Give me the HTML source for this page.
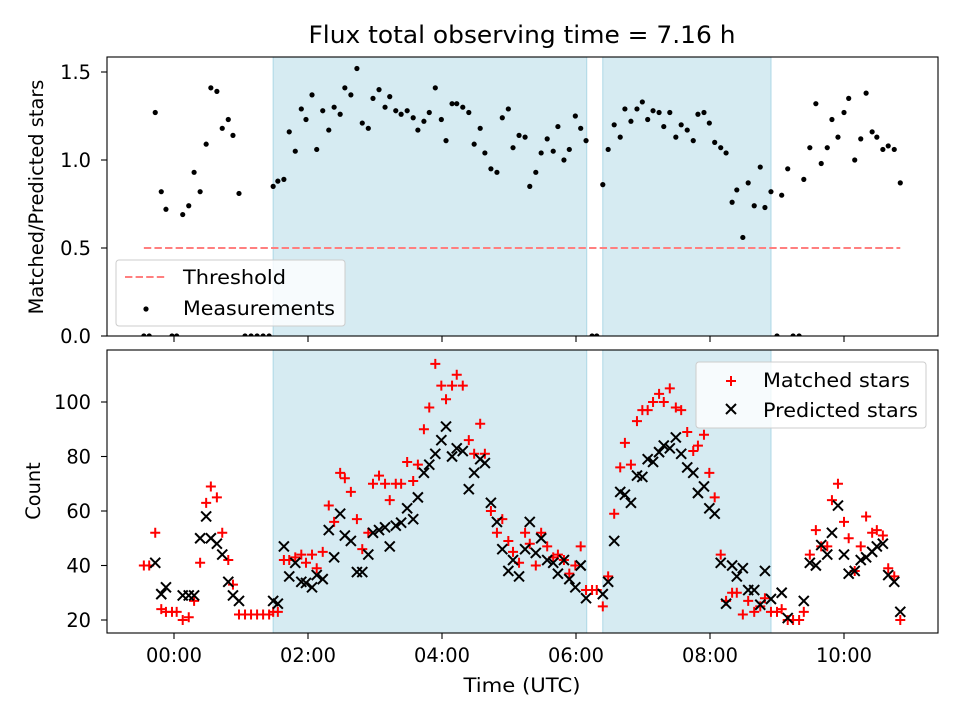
<!DOCTYPE html>
<html><head><meta charset="utf-8"><style>
body{margin:0;background:#fff;}
svg{display:block;font-family:"DejaVu Sans","Liberation Sans",sans-serif;}
</style></head><body>
<svg id="chart" width="960" height="720" xmlns="http://www.w3.org/2000/svg"></svg>
<script>
const times=[-0.45,-0.37,-0.28,-0.19,-0.12,-0.03,0.04,0.13,0.22,0.30,0.39,0.48,0.55,0.64,0.72,0.81,0.88,0.97,1.06,1.15,1.24,1.33,1.42,1.48,1.55,1.64,1.72,1.81,1.90,1.97,2.06,2.13,2.22,2.31,2.39,2.48,2.55,2.64,2.73,2.81,2.90,2.97,3.06,3.15,3.22,3.31,3.39,3.48,3.57,3.64,3.73,3.81,3.90,3.99,4.06,4.15,4.22,4.31,4.40,4.48,4.57,4.64,4.73,4.82,4.90,4.99,5.06,5.15,5.24,5.31,5.40,5.48,5.57,5.66,5.73,5.82,5.90,5.99,6.07,6.15,6.24,6.31,6.40,6.48,6.57,6.66,6.73,6.82,6.91,6.99,7.07,7.15,7.24,7.31,7.40,7.49,7.57,7.66,7.75,7.82,7.91,7.99,8.07,8.16,8.24,8.33,8.40,8.49,8.57,8.66,8.75,8.82,8.91,9.00,9.07,9.16,9.24,9.33,9.40,9.49,9.58,9.66,9.75,9.82,9.91,10.00,10.07,10.16,10.25,10.33,10.42,10.49,10.58,10.66,10.75,10.84];
const ratios=[0,0,1.27,0.82,0.72,0,0,0.69,0.74,0.93,0.82,1.09,1.41,1.39,1.18,1.23,1.14,0.81,0,0,0,0,0,0.85,0.88,0.89,1.16,1.05,1.29,1.23,1.37,1.06,1.28,1.17,1.30,1.26,1.41,1.37,1.52,1.21,1.18,1.35,1.40,1.30,1.36,1.28,1.26,1.28,1.24,1.17,1.22,1.27,1.41,1.23,1.11,1.32,1.32,1.30,1.27,1.09,1.18,1.04,0.95,0.93,1.24,1.29,1.07,1.14,1.13,0.85,0.93,1.04,1.12,1.05,1.19,1.00,1.06,1.25,1.18,1.11,0,0,0.86,1.06,1.20,1.13,1.29,1.22,1.29,1.33,1.23,1.28,1.27,1.19,1.27,1.13,1.20,1.17,1.11,1.26,1.27,1.21,1.10,1.07,1.04,0.76,0.83,0.56,0.87,0.74,0.96,0.73,0.82,0,0.80,0.95,0,0,0.89,1.07,1.32,0.98,1.07,1.23,1.13,1.27,1.35,1.00,1.12,1.38,1.16,1.13,1.06,1.08,1.06,0.87];
const matched=[40,40,52,24,23,23,23,20,21,27,41,63,69,65,52,42,33,22,22,22,22,22,22,23,23,42,42,43,44,41,44,39,45,62,56,74,72,67,57,46,52,70,73,70,64,70,70,78,71,77,90,98,114,106,101,106,110,106,86,81,92,81,60,52,57,49,45,41,52,48,40,52,47,43,44,42,37,40,47,31,31,31,25,36,59,76,85,77,93,97,97,100,103,100,105,98,97,89,82,84,88,74,65,44,27,30,30,22,27,23,25,28,23,23,24,20,20,20,23,44,53,47,47,64,70,56,50,38,47,58,52,53,51,39,36,20];
const predicted=[null,null,41,29.5,32,null,null,29,29,29,50,58,50,48,44,34,29,27,null,null,null,null,null,27,26,47,36,41,34,33.6,32,36.5,35,53,43,59,51,49,37.6,37.6,44,52,53,54,47,54.6,55.7,61,57,65,74,77,81,86,91,80,83,82,68,74,79,77.6,63,56,46,38,42,36,46,56,44.6,50,42,41,37,42,35,32,40,28,null,null,29.5,34,49,67,66,63,73,72.5,79,78,81.6,84,83,87,81,76,74,66.6,69,61,59,41,26,40,36,39,31,31,25.6,38,27.7,null,30,20.7,null,null,27,41,40,47.5,44,52,62,44,37,38,42,43,45,47,48,36.5,34,23];
const threshold=0.5;
const shadeStart=[1.48,6.40];
const shadeEnd=[6.16,8.91];
const xTicks=[0,2,4,6,8,10];
const xTickLabels=["00:00","02:00","04:00","06:00","08:00","10:00"];
const topTicks=[0,0.5,1.0,1.5];
const topTickLabels=["0.0","0.5","1.0","1.5"];
const botTicks=[20,40,60,80,100];
const botTickLabels=["20","40","60","80","100"];

const NS="http://www.w3.org/2000/svg";
const svg=document.getElementById('chart');
function mk(tag,attrs,parent){const e=document.createElementNS(NS,tag);for(const k in attrs)e.setAttribute(k,attrs[k]);(parent||svg).appendChild(e);return e;}
const L=107,R=938,T1=57,B1=336,T2=350,B2=633;
const FS=19.4;
const xs=h=>174+67*h;
const ysTop=v=>336-176*v;
const ysBot=v=>620-(v-20)*2.725;

let t=mk('text',{x:522,y:43,'text-anchor':'middle','font-size':24,textLength:427,lengthAdjust:'spacingAndGlyphs'});t.textContent="Flux total observing time = 7.16 h";



function panel(top,bot,name){
  const g=mk('g',{});
  
  
  for(let i=0;i<shadeStart.length;i++){
    const r=mk('rect',{x:xs(shadeStart[i]),y:top,width:xs(shadeEnd[i])-xs(shadeStart[i]),height:bot-top,fill:'#add8e6','fill-opacity':0.5,stroke:'#add8e6','stroke-width':1},g);
    
    
  }
  return g;
}
function frame(top,bot){mk('rect',{x:L,y:top,width:R-L,height:bot-top,fill:'none',stroke:'#000','stroke-width':1.1});}
function xticks(bot,labels){
  xTicks.forEach((h,i)=>{
    mk('line',{x1:xs(h),x2:xs(h),y1:bot,y2:bot+6,stroke:'#000','stroke-width':1.1});
    if(labels){const tx=mk('text',{x:xs(h),y:bot+29,'text-anchor':'middle','font-size':FS});tx.textContent=xTickLabels[i];
      
      }
  });
}
function yticks(vals,labs,fy){
  vals.forEach((v,i)=>{
    mk('line',{x1:L-6,x2:L,y1:fy(v),y2:fy(v),stroke:'#000','stroke-width':1.1});
    const tx=mk('text',{x:L-16,y:fy(v)+7,'text-anchor':'end','font-size':FS});tx.textContent=labs[i];
    
    
  });
}

const gTop=panel(T1,B1,'ratio-panel');
const th=mk('line',{x1:xs(-0.45),x2:xs(10.84),y1:ysTop(threshold),y2:ysTop(threshold),stroke:'#ff7f7f','stroke-width':2,'stroke-dasharray':'7.4,3.2'},gTop);


const clipT=mk('clipPath',{id:'ct'});mk('rect',{x:L,y:T1-5,width:R-L,height:B1-T1+5},clipT);
const gPts=mk('g',{'clip-path':'url(#ct)'},gTop);
times.forEach((h,i)=>{
  const c=mk('circle',{cx:xs(h),cy:ysTop(ratios[i]),r:2.6,fill:'#000'},gPts);
  
  
});
frame(T1,B1);xticks(B1,false);yticks(topTicks,topTickLabels,ysTop);
let yl=mk('text',{x:0,y:0,transform:'translate(43,197) rotate(-90)','text-anchor':'middle','font-size':FS});yl.textContent="Matched/Predicted stars";



const lg=mk('g',{});


mk('rect',{x:116,y:260,width:229,height:66,rx:3,fill:'#fff','fill-opacity':0.8,stroke:'#ccc'},lg);
mk('line',{x1:125,x2:165,y1:277,y2:277,stroke:'#ff7f7f','stroke-width':2,'stroke-dasharray':'7.4,3.2'},lg);
let lt=mk('text',{x:183,y:284,'font-size':FS,textLength:103,lengthAdjust:'spacingAndGlyphs'},lg);lt.textContent="Threshold";


mk('circle',{cx:146,cy:309,r:2.6,fill:'#000'},lg);
lt=mk('text',{x:183,y:315,'font-size':FS,textLength:152,lengthAdjust:'spacingAndGlyphs'},lg);lt.textContent="Measurements";



const gBot=panel(T2,B2,'count-panel');
const s=5;
times.forEach((h,i)=>{
  const x=xs(h),y=ysBot(matched[i]);
  const p=mk('path',{d:`M${x-s} ${y}H${x+s}M${x} ${y-s}V${y+s}`,stroke:'#f00','stroke-width':2},gBot);
  
  
});
times.forEach((h,i)=>{
  if(predicted[i]===null)return;
  const x=xs(h),y=ysBot(predicted[i]);
  const p=mk('path',{d:`M${x-s} ${y-s}L${x+s} ${y+s}M${x-s} ${y+s}L${x+s} ${y-s}`,stroke:'#000','stroke-width':2},gBot);
  
  
});
frame(T2,B2);xticks(B2,true);yticks(botTicks,botTickLabels,ysBot);
yl=mk('text',{x:0,y:0,transform:'translate(40,491) rotate(-90)','text-anchor':'middle','font-size':FS});yl.textContent="Count";


let xl=mk('text',{x:522,y:692,'text-anchor':'middle','font-size':FS,textLength:117,lengthAdjust:'spacingAndGlyphs'});xl.textContent="Time (UTC)";



const lg2=mk('g',{});


mk('rect',{x:696,y:362,width:230,height:66,rx:3,fill:'#fff','fill-opacity':0.8,stroke:'#ccc'},lg2);
mk('path',{d:'M726 381H736M731 376V386',stroke:'#f00','stroke-width':2},lg2);
lt=mk('text',{x:763,y:387,'font-size':FS,textLength:147,lengthAdjust:'spacingAndGlyphs'},lg2);lt.textContent="Matched stars";


mk('path',{d:'M726 404L736 414M726 414L736 404',stroke:'#000','stroke-width':2},lg2);
lt=mk('text',{x:763,y:417,'font-size':FS,textLength:155,lengthAdjust:'spacingAndGlyphs'},lg2);lt.textContent="Predicted stars";


</script>
</body></html>
